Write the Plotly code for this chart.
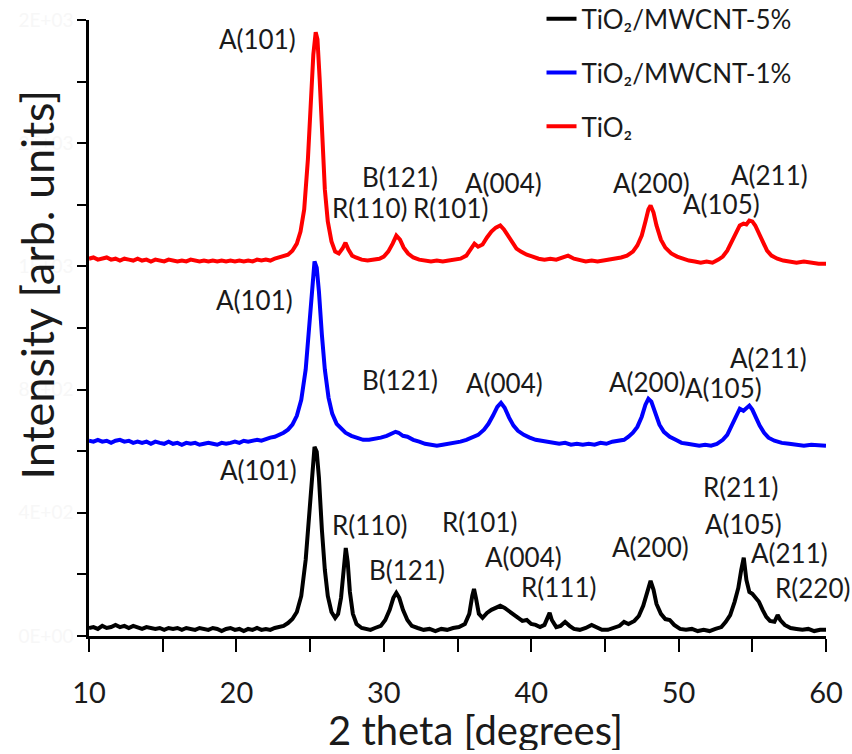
import plotly.graph_objects as go

# ---------------- data (2 theta in degrees, intensity in counts) ----------------
tt_5 = [10.0, 10.3, 10.6, 10.9, 11.2, 11.5, 11.8, 12.1, 12.4, 12.7, 13.0, 13.3, 13.6, 13.9, 14.2, 14.5,
        14.8, 15.1, 15.4, 15.7, 16.0, 16.3, 16.6, 16.9, 17.2, 17.5, 17.8, 18.1, 18.4, 18.7, 19.0, 19.3,
        19.6, 19.9, 20.2, 20.5, 20.8, 21.1, 21.4, 21.7, 22.0, 22.3, 22.6, 22.9, 23.2, 23.5, 23.8, 24.1,
        24.4, 24.7, 24.95, 25.15, 25.3, 25.45, 25.6, 25.8, 26.0, 26.2, 26.45, 26.7, 26.9, 27.1, 27.3,
        27.42, 27.55, 27.7, 27.9, 28.15, 28.5, 28.8, 29.1, 29.4, 29.8, 30.1, 30.4, 30.65, 30.85, 31.05,
        31.3, 31.6, 31.9, 32.3, 32.7, 33.1, 33.5, 33.9, 34.3, 34.7, 35.1, 35.5, 35.8, 36.0, 36.12, 36.25,
        36.45, 36.7, 37.0, 37.3, 37.6, 37.9, 38.2, 38.5, 38.8, 39.1, 39.4, 39.7, 40.0, 40.3, 40.6, 40.9,
        41.1, 41.25, 41.4, 41.7, 42.0, 42.3, 42.6, 42.9, 43.3, 43.7, 44.1, 44.4, 44.8, 45.2, 45.6, 46.0,
        46.3, 46.6, 47.0, 47.3, 47.6, 47.85, 48.1, 48.3, 48.5, 48.8, 49.1, 49.4, 49.7, 50.1, 50.5, 50.9,
        51.3, 51.7, 52.1, 52.5, 52.9, 53.2, 53.5, 53.8, 54.05, 54.25, 54.42, 54.6, 54.8, 55.0, 55.2,
        55.45, 55.7, 55.95, 56.2, 56.5, 56.72, 56.9, 57.2, 57.6, 58.0, 58.4, 58.8, 59.2, 59.6, 60.0]
int_5 = [26, 29, 23, 33, 26, 29, 36, 29, 33, 26, 33, 29, 23, 29, 26, 23,
         26, 20, 26, 23, 26, 20, 26, 23, 20, 26, 23, 20, 26, 23, 16, 23,
         26, 20, 23, 16, 23, 20, 26, 20, 23, 20, 26, 29, 33, 42, 55, 78,
         130, 247, 410, 546, 614, 598, 514, 345, 215, 130, 78, 59, 72, 124, 231,
         286, 240, 143, 72, 39, 26, 23, 20, 26, 33, 52, 85, 124, 140, 124,
         85, 52, 33, 26, 20, 23, 16, 23, 20, 26, 29, 39, 72, 130, 153, 124,
         72, 59, 75, 85, 91, 98, 91, 81, 68, 59, 49, 52, 39, 36, 29, 36,
         59, 75, 52, 29, 33, 46, 33, 23, 20, 26, 36, 29, 20, 20, 26, 33,
         46, 39, 49, 65, 98, 143, 179, 150, 104, 72, 55, 52, 36, 23, 20, 23,
         16, 20, 16, 23, 29, 46, 68, 111, 156, 215, 254, 182, 143, 137, 124,
         111, 85, 62, 49, 46, 68, 52, 36, 26, 23, 20, 23, 16, 20, 20]

tt_1 = [10.0, 10.3, 10.6, 10.9, 11.2, 11.5, 11.8, 12.1, 12.4, 12.7, 13.0, 13.3, 13.6, 13.9, 14.2, 14.5,
        14.8, 15.1, 15.4, 15.7, 16.0, 16.3, 16.6, 16.9, 17.2, 17.5, 17.8, 18.1, 18.4, 18.7, 19.0, 19.3,
        19.6, 19.9, 20.2, 20.5, 20.8, 21.1, 21.4, 21.7, 22.0, 22.3, 22.6, 22.9, 23.2, 23.5, 23.8, 24.1,
        24.4, 24.7, 24.95, 25.15, 25.3, 25.45, 25.6, 25.8, 26.0, 26.25, 26.5, 26.8, 27.1, 27.4, 27.8,
        28.2, 28.6, 29.0, 29.4, 29.8, 30.2, 30.5, 30.8, 31.0, 31.3, 31.6, 32.0, 32.4, 32.8, 33.2, 33.6,
        34.0, 34.4, 34.8, 35.2, 35.6, 36.0, 36.4, 36.8, 37.1, 37.4, 37.7, 37.95, 38.2, 38.5, 38.8, 39.1,
        39.5, 39.9, 40.3, 40.7, 41.1, 41.5, 41.9, 42.3, 42.7, 43.1, 43.5, 43.9, 44.3, 44.7, 45.1, 45.5,
        45.9, 46.3, 46.6, 46.9, 47.2, 47.5, 47.75, 47.95, 48.15, 48.4, 48.7, 49.0, 49.4, 49.8, 50.2,
        50.6, 51.0, 51.4, 51.8, 52.2, 52.6, 53.0, 53.3, 53.6, 53.9, 54.15, 54.4, 54.6, 54.8, 55.0, 55.25,
        55.5, 55.8, 56.1, 56.5, 57.0, 57.5, 58.0, 58.5, 59.0, 59.5, 60.0]
int_1 = [34, 31, 37, 31, 34, 27, 34, 37, 31, 34, 27, 31, 27, 31, 24, 31,
         27, 24, 31, 24, 27, 21, 27, 24, 27, 21, 24, 27, 24, 21, 27, 24,
         27, 31, 27, 34, 31, 34, 37, 34, 40, 44, 47, 53, 60, 70, 86, 115,
         167, 265, 411, 541, 616, 596, 518, 378, 265, 174, 122, 89, 73, 60, 50,
         44, 37, 37, 40, 44, 50, 57, 63, 60, 50, 47, 37, 31, 24, 21, 18,
         21, 24, 27, 31, 37, 44, 53, 70, 89, 115, 144, 157, 141, 109, 83, 66,
         53, 44, 37, 34, 31, 27, 24, 27, 21, 24, 21, 24, 21, 27, 24, 31,
         34, 37, 47, 60, 79, 112, 151, 170, 161, 125, 86, 63, 47, 37, 27,
         24, 21, 18, 21, 18, 24, 37, 53, 83, 115, 138, 131, 141, 148, 135, 109,
         83, 60, 44, 34, 27, 24, 21, 18, 21, 18, 18]

tt_0 = [10.0, 10.3, 10.6, 10.9, 11.2, 11.5, 11.8, 12.1, 12.4, 12.7, 13.0, 13.3, 13.6, 13.9, 14.2, 14.5,
        14.8, 15.1, 15.4, 15.7, 16.0, 16.3, 16.6, 16.9, 17.2, 17.5, 17.8, 18.1, 18.4, 18.7, 19.0, 19.3,
        19.6, 19.9, 20.2, 20.5, 20.8, 21.1, 21.4, 21.7, 22.0, 22.3, 22.6, 22.9, 23.2, 23.5, 23.8, 24.1,
        24.35, 24.6, 24.85, 25.05, 25.22, 25.38, 25.5, 25.65, 25.8, 26.0, 26.2, 26.45, 26.7, 26.95, 27.2,
        27.4, 27.6, 27.85, 28.1, 28.5, 28.9, 29.3, 29.7, 30.0, 30.3, 30.6, 30.85, 31.1, 31.35, 31.65,
        32.0, 32.4, 32.8, 33.2, 33.6, 34.0, 34.4, 34.8, 35.2, 35.6, 35.9, 36.15, 36.4, 36.7, 37.0, 37.3,
        37.6, 37.9, 38.15, 38.4, 38.7, 39.0, 39.3, 39.7, 40.1, 40.5, 40.9, 41.3, 41.7, 42.1, 42.5, 42.9,
        43.3, 43.7, 44.1, 44.5, 44.9, 45.3, 45.7, 46.1, 46.5, 46.9, 47.2, 47.5, 47.75, 47.95, 48.1, 48.3,
        48.5, 48.8, 49.1, 49.5, 49.9, 50.3, 50.7, 51.1, 51.5, 51.9, 52.3, 52.7, 53.0, 53.3, 53.6, 53.9,
        54.15, 54.4, 54.6, 54.8, 55.0, 55.2, 55.45, 55.7, 56.0, 56.3, 56.7, 57.1, 57.5, 58.0, 58.5, 59.0,
        59.5, 60.0]
int_0 = [25, 29, 22, 25, 29, 22, 25, 19, 25, 22, 19, 25, 19, 22, 16, 22,
         19, 16, 22, 19, 16, 19, 16, 22, 19, 16, 19, 16, 19, 16, 19, 16,
         19, 16, 19, 16, 19, 16, 22, 19, 22, 19, 25, 29, 32, 38, 51, 74,
         113, 185, 347, 542, 688, 760, 737, 607, 428, 250, 146, 81, 48, 42, 58,
         77, 55, 35, 29, 22, 19, 22, 25, 32, 48, 74, 100, 87, 61, 42,
         29, 22, 19, 16, 19, 16, 19, 22, 25, 35, 55, 74, 64, 71, 94, 113,
         126, 133, 120, 100, 77, 58, 48, 38, 32, 25, 22, 25, 22, 29, 35, 25,
         19, 16, 19, 16, 19, 22, 25, 29, 35, 48, 68, 100, 146, 185, 198, 175,
         133, 87, 61, 42, 32, 25, 19, 16, 12, 16, 12, 22, 32, 51, 81, 113,
         133, 139, 136, 149, 146, 133, 107, 77, 51, 35, 25, 19, 16, 12, 16, 12,
         9, 9]

series_names = ["TiO₂/MWCNT-5%", "TiO₂/MWCNT-1%", "TiO₂"]
series_offsets = [0, 600, 1200]
series_colors = ["#000000", "#0000ff", "#ff0000"]

# peak labels
label_text = ["A(101)", "B(121)", "R(110)", "R(101)", "A(004)", "A(200)", "A(211)", "A(105)",
              "A(101)", "B(121)", "A(004)", "A(200)", "A(211)", "A(105)",
              "A(101)", "R(110)", "R(101)", "B(121)", "A(004)", "R(111)", "A(200)", "R(211)",
              "A(105)", "A(211)", "R(220)"]
label_x = [21.4, 31.1, 29.0, 34.5, 38.15, 48.13, 56.2, 52.9,
           21.26, 31.1, 38.22, 47.9, 56.07, 53.05,
           21.47, 29.06, 36.46, 31.57, 39.51, 41.82, 48.06, 54.23, 54.37, 57.49, 59.05]
label_y = [1937, 1489, 1391, 1391, 1472, 1472, 1498, 1401,
           1092, 832, 822, 826, 904, 806,
           540, 361, 371, 215, 257, 159, 289, 484, 364, 270, 156]

y_tick_vals = [0, 200, 400, 600, 800, 1000, 1200, 1400, 1600, 1800, 2000]
y_tick_text = ["0E+00", "", "4E+02", "", "8E+02", "", "1E+03", "", "2E+03", "", "2E+03"]
x_tick_vals = [10, 15, 20, 25, 30, 35, 40, 45, 50, 55, 60]
x_tick_text = ["10", "", "20", "", "30", "", "40", "", "50", "", "60"]

FONT = "Lato, 'Open Sans', sans-serif"

fig = go.Figure()
for name, xs, ys, off, col in zip(series_names, [tt_5, tt_1, tt_0], [int_5, int_1, int_0],
                                  series_offsets, series_colors):
    fig.add_trace(go.Scatter(x=xs, y=[v + off for v in ys], mode="lines", name=name,
                             legendgroup=name,
                             line=dict(color=col, width=4)))

for t, x, y in zip(label_text, label_x, label_y):
    fig.add_annotation(x=x, y=y, xref="x", yref="y", text=t, showarrow=False,
                       font=dict(family=FONT, size=26, color="#1a1a1a"),
                       xanchor="center", yanchor="middle")

fig.add_annotation(x=0.524, y=-0.152, xref="paper", yref="paper", text="2 theta [degrees]",
                   showarrow=False, font=dict(family=FONT, size=40, color="#1a1a1a"),
                   height=40, xanchor="center", yanchor="middle")
fig.add_annotation(x=-0.071, y=0.57, xref="paper", yref="paper", text="Intensity [arb. units]",
                   showarrow=False, textangle=-90, font=dict(family=FONT, size=45, color="#1a1a1a"),
                   xanchor="center", yanchor="middle")

fig.update_layout(
    width=852, height=754,
    margin=dict(l=89, r=26, t=20, b=118, autoexpand=False),
    paper_bgcolor="white", plot_bgcolor="white",
    font=dict(family=FONT, color="#1a1a1a"),
    showlegend=True,
    legend=dict(x=0.614, y=1.04, xanchor="left", yanchor="top",
                font=dict(family=FONT, size=26, color="#1a1a1a"),
                bgcolor="rgba(0,0,0,0)", tracegroupgap=17, traceorder="grouped"),
    xaxis=dict(range=[10, 60], showgrid=False, zeroline=False, automargin=False,
               showline=True, linecolor="black", linewidth=2.5,
               ticks="outside", ticklen=13, tickwidth=2, tickcolor="black",
               tickvals=x_tick_vals, ticktext=x_tick_text,
               tickfont=dict(family=FONT, size=29, color="#1a1a1a"),
               ticklabelstandoff=16),
    yaxis=dict(range=[0, 2000], showgrid=False, zeroline=False, automargin=False,
               showline=True, linecolor="black", linewidth=2.5,
               ticks="outside", ticklen=9, tickwidth=2, tickcolor="black",
               tickvals=y_tick_vals, ticktext=y_tick_text,
               tickfont=dict(family=FONT, size=19, color="#f7f7f7")),
)

fig.write_html("out.html")
